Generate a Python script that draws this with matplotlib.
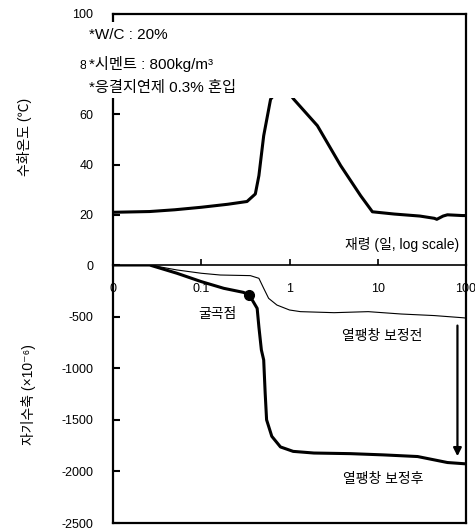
import matplotlib
matplotlib.use("Agg")
from matplotlib import pyplot as plt
from matplotlib.patches import Rectangle

plt.rcParams['font.family'] = ['Liberation Sans', 'Noto Sans CJK KR', 'DejaVu Sans']
plt.rcParams['axes.unicode_minus'] = False

# hydration temperature (deg C) vs age (days)
temp_days = [0.01, 0.026, 0.05, 0.1, 0.2, 0.33, 0.41, 0.45, 0.51, 0.61, 0.83, 1.12,
             2.07, 3.8, 6.4, 8.7, 15.4, 30, 43.8, 46.7, 55, 61.6, 91, 100]
temp_vals = [21, 21.3, 22, 23, 24.2, 25.3, 28.3, 35.6, 51.5, 66, 72, 66,
             55.5, 39.6, 27.6, 21.2, 20.3, 19.5, 18.6, 18.2, 19.5, 20, 19.7, 19.7]

# autogenous shrinkage before thermal-expansion correction (x1e-6)
before_days = [0.01, 0.026, 0.053, 0.1, 0.164, 0.36, 0.45, 0.51, 0.58, 0.72, 1.0, 1.33,
               3.2, 7.8, 18.5, 43.6, 95, 100]
before_vals = [0, 0, -48, -80, -97, -103, -129, -226, -323, -388, -436, -452,
               -462, -452, -475, -490, -512, -515]

# after correction
after_days = [0.01, 0.026, 0.053, 0.1, 0.18, 0.30, 0.35, 0.43, 0.45, 0.48, 0.51, 0.53,
              0.55, 0.63, 0.79, 1.1, 1.89, 4.9, 11.6, 28.3, 61.6, 100]
after_vals = [0, 0, -80, -161, -226, -265, -290, -420, -600, -823, -920, -1240,
              -1500, -1660, -1763, -1806, -1822, -1828, -1840, -1856, -1914, -1927]

# inflection point
knee_day = 0.35
knee_val = -290

xticks = [0.01, 0.1, 1, 10, 100]
xticklabels = ['0', '0.1', '1', '10', '100']
temp_ticks = [0, 20, 40, 60, 80, 100]
shrink_ticks = [-2500, -2000, -1500, -1000, -500]

fig = plt.figure(figsize=(4.75, 5.28), dpi=100)
left = 113 / 475
width = (466 - 113) / 475
mid = 1 - 265 / 528
ax1 = fig.add_axes([left, mid, width, (265 - 14) / 528])
ax2 = fig.add_axes([left, 1 - 523 / 528, width, mid - (1 - 523 / 528)])
ax2.patch.set_visible(False)

#Top: temperature
ax1.plot(temp_days, temp_vals, color='black', lw=2.2)
ax1.set_xscale('log')
ax1.set_xlim(0.01, 100)
ax1.set_ylim(0, 100)
ax1.set_xticks(xticks, xticklabels)
ax1.minorticks_off()
ax1.set_yticks(temp_ticks)
ax1.tick_params(axis='x', direction='in', length=4, width=1.2, pad=13, labelsize=9)
ax1.tick_params(axis='y', direction='in', length=5, width=1.5, pad=14, labelsize=9)
for s in ['top', 'left', 'right']:
    ax1.spines[s].set_linewidth(1.6)
ax1.spines['bottom'].set_linewidth(1.2)
ax1.text(0.98, 0.08, '재령 (일, log scale)', transform=ax1.transAxes,
         ha='right', va='center', fontsize=10)

#white box behind the mix notes
ax1.add_patch(Rectangle((-0.076, 0.665), 0.62, 0.305, transform=ax1.transAxes,
                        facecolor='white', edgecolor='none', clip_on=False, zorder=3))
notes = ['*W/C : 20%', '*시멘트 : 800kg/m³', '*응결지연제 0.3% 혼입']
note_y = [35, 64, 88]
for t, yy in zip(notes, note_y):
    fig.text(89 / 475, 1 - yy / 528, t, ha='left', va='center', fontsize=11, zorder=4)

#Bottom: shrinkage
ax2.plot(before_days, before_vals, color='black', lw=0.8)
ax2.plot(after_days, after_vals, color='black', lw=2.2)
ax2.plot(knee_day, knee_val, 'o', color='black', ms=7)
ax2.set_xscale('log')
ax2.set_xlim(0.01, 100)
ax2.set_ylim(-2500, 0)
ax2.set_xticks([])
ax2.minorticks_off()
ax2.set_yticks(shrink_ticks)
ax2.tick_params(axis='y', direction='in', length=5, width=1.5, pad=14, labelsize=9)
ax2.spines['top'].set_visible(False)
for s in ['bottom', 'left', 'right']:
    ax2.spines[s].set_linewidth(1.6)

ax2.annotate('', xy=(80, -1880), xytext=(80, -560),
             arrowprops=dict(arrowstyle='-|>', color='black', lw=1.6, mutation_scale=12))
ax2.text(0.152, -475, '굴곡점', ha='center', va='center', fontsize=10)
ax2.text(11.1, -690, '열팽창 보정전', ha='center', va='center', fontsize=10)
ax2.text(11.5, -2075, '열팽창 보정후', ha='center', va='center', fontsize=10)

fig.text(25 / 475, 1 - 137 / 528, '수화온도 (℃)', rotation=90, ha='center', va='center', fontsize=10)
fig.text(28 / 475, 1 - 395 / 528, '자기수축 (×10⁻⁶)', rotation=90, ha='center', va='center', fontsize=10)

fig.savefig('out.png', dpi=100)
